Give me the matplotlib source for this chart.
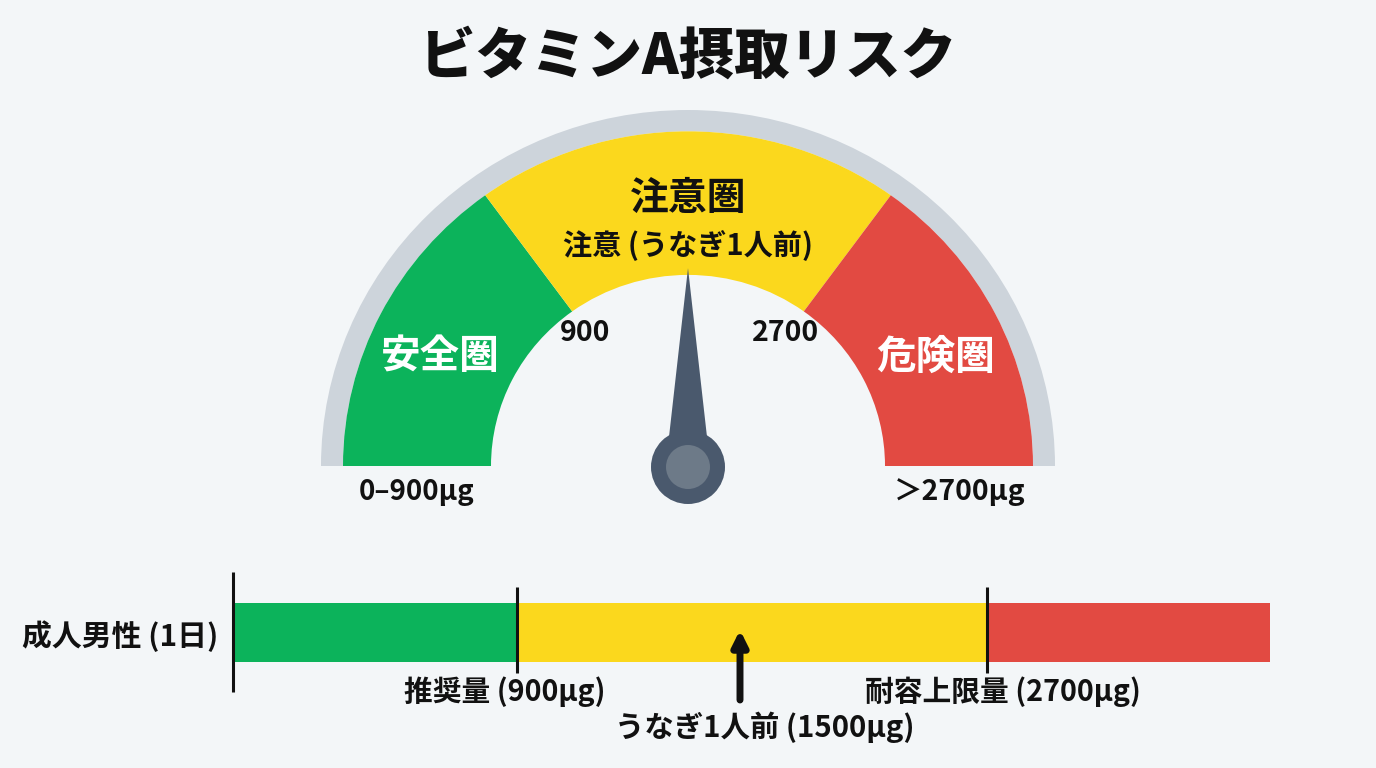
import numpy as np
import matplotlib
matplotlib.use("Agg")
import matplotlib.pyplot as plt
from matplotlib.patches import Wedge, Circle, Polygon
from matplotlib.transforms import Affine2D

plt.rcParams['font.family'] = ['Noto Sans CJK JP', 'DejaVu Sans']

# ---- data -------------------------------------------------------------
title = "ビタミンA摂取リスク"
zone_names = ["安全圏", "注意圏", "危険圏"]
zone_bounds = [0, 900, 2700, 3600]          # μg / day
zone_colors = ["#0cb35b", "#fbd81d", "#e24a42"]
boundary_labels = ["900", "2700"]
range_labels = ["0–900μg", "＞2700μg"]
needle_value = 1500
needle_caption = "注意 (うなぎ1人前)"
bar_label = "成人男性 (1日)"
marker_values = [900, 2700]
marker_labels = ["推奨量 (900μg)", "耐容上限量 (2700μg)"]
eel_value = 1500
eel_label = "うなぎ1人前 (1500μg)"

# piecewise scale nodes (value -> gauge angle / bar position)
scale_vals = [0, 900, 1500, 2700, 3600]
gauge_angles = [180, 126, 90, 54, 0]
bar_pos = [0, 284, 507, 754, 1037]

BG = "#f3f6f8"
INK = "#111111"
W, H = 1376, 768
fig = plt.figure(figsize=(W / 100, H / 100), dpi=100, facecolor=BG)
ax = fig.add_axes([0, 0, 1, 1])
ax.set_xlim(0, W)
ax.set_ylim(H, 0)
ax.axis("off")
ax.set_facecolor(BG)

# ---- gauge ------------------------------------------------------------
cx, cy = 688, 466
gtr = Affine2D().scale(1, -0.97).translate(cx, cy) + ax.transData
r_out, r_col, r_in = 367, 345, 197


def ang(v):
    return np.interp(v, scale_vals, gauge_angles)


ax.add_patch(Wedge((0, 0), r_out, 0, 180, width=r_out - r_col,
                   facecolor="#cdd4db", edgecolor="none", transform=gtr))
for lo, hi, c in zip(zone_bounds[:-1], zone_bounds[1:], zone_colors):
    ax.add_patch(Wedge((0, 0), r_col, ang(hi), ang(lo), width=r_col - r_in,
                       facecolor=c, edgecolor="none", transform=gtr))

# needle
a = np.deg2rad(ang(needle_value))
tip = np.array([np.cos(a), np.sin(a)]) * 204
perp = np.array([-np.sin(a), np.cos(a)])
base = np.array([np.cos(a), np.sin(a)]) * 30
needle_col = "#4a596d"
ax.add_patch(Polygon([tip, base + perp * 19, base - perp * 19],
                     closed=True, facecolor=needle_col, edgecolor="none",
                     transform=gtr))
ax.add_patch(Circle((cx, cy + 1), 37, facecolor=needle_col, edgecolor="none"))
ax.add_patch(Circle((cx, cy + 1), 22, facecolor="#6d7a88", edgecolor="none"))

# gauge texts
ax.text(688, 57, title, ha="center", va="center", fontsize=40,
        fontweight="heavy", color=INK)
ax.text(688, 198, zone_names[1], ha="center", va="center", fontsize=28,
        fontweight="bold", color=INK)
ax.text(688, 246, needle_caption, ha="center", va="center", fontsize=21,
        fontweight="bold", color=INK)
ax.text(440, 357, zone_names[0], ha="center", va="center", fontsize=28.5,
        fontweight="bold", color="white")
ax.text(936, 357, zone_names[2], ha="center", va="center", fontsize=28.5,
        fontweight="bold", color="white")
ax.text(585, 333, boundary_labels[0], ha="center", va="center", fontsize=20.5,
        fontweight="bold", color=INK)
ax.text(786, 333, boundary_labels[1], ha="center", va="center", fontsize=20.5,
        fontweight="bold", color=INK)
ax.text(417, 492, range_labels[0], ha="center", va="center", fontsize=20,
        fontweight="bold", color=INK)
ax.text(960, 492, range_labels[1], ha="center", va="center", fontsize=20.5,
        fontweight="bold", color=INK)

# ---- bar with piecewise scale -----------------------------------------
bx0, bx1 = 233, 1270
bax = fig.add_axes([bx0 / W, 8 / H, (bx1 - bx0) / W, 200 / H])
bax.set_xscale("function",
               functions=(lambda v: np.interp(v, scale_vals, bar_pos),
                          lambda p: np.interp(p, bar_pos, scale_vals)))
bax.set_xlim(zone_bounds[0], zone_bounds[-1])
bax.set_ylim(760, 560)
bax.axis("off")

for lo, hi, c in zip(zone_bounds[:-1], zone_bounds[1:], zone_colors):
    bax.barh(632.5, hi - lo, left=lo, height=59, color=c, edgecolor="none")

bax.vlines(zone_bounds[0], 572, 692, color=INK, lw=2.2, clip_on=False)
bax.vlines(marker_values, 587, 673, color=INK, lw=2.2, clip_on=False)

label_offsets = [-12, 16]
for v, lab, off in zip(marker_values, marker_labels, label_offsets):
    bax.annotate(lab, xy=(v, 692), xytext=(off, 0), textcoords="offset pixels",
                 ha="center", va="center", fontsize=20.7, fontweight="bold",
                 color=INK, annotation_clip=False)

bax.annotate("", xy=(eel_value, 630), xytext=(eel_value, 700),
             arrowprops=dict(arrowstyle="-|>,head_length=0.9,head_width=0.45",
                             lw=5, color=INK, shrinkA=0, shrinkB=0),
             annotation_clip=False)
bax.annotate(eel_label, xy=(eel_value, 727), xytext=(25, 0),
             textcoords="offset pixels", ha="center", va="center",
             fontsize=21.2, fontweight="bold", color=INK,
             annotation_clip=False)

ax.text(218, 636, bar_label, ha="right", va="center", fontsize=21.5,
        fontweight="bold", color=INK)

fig.savefig("out.png", dpi=100, facecolor=BG)
